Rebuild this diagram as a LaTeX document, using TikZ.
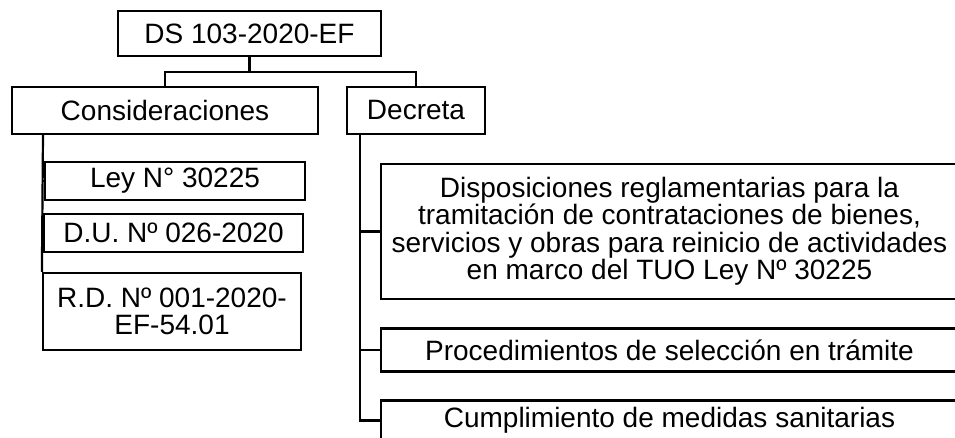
\documentclass[tikz,border=0pt]{standalone}
\usepackage{fontspec}
\setmainfont{Liberation Sans}
\usetikzlibrary{calc}
\begin{document}
\begin{tikzpicture}[x=1pt,y=-1pt,
  box/.style={draw=black,line width=2.2pt,rectangle,inner sep=0pt,align=center,
    font=\fontsize{28}{27.5}\selectfont},
  conn/.style={draw=black,line width=2.2pt}]
\useasboundingbox (0,0) rectangle (955,437);
\clip (0,0) rectangle (955,437);
\node[box,minimum width=263pt,minimum height=45pt] (top) at (249.5,33.5) {DS 103-2020-EF};
\node[box,minimum width=306pt,minimum height=47pt] (cons) at (165,110.5) {Consideraciones};
\node[box,minimum width=138pt,minimum height=47pt] (dec) at (416,110.5) {Decreta};
\node[box,minimum width=260pt,minimum height=38pt] (ley) at (175,181) {Ley N° 30225};
\node[box,minimum width=259pt,minimum height=38pt] (du) at (173.5,233) {D.U. Nº 026-2020};
\node[box,minimum width=258pt,minimum height=77pt] (rd) at (172,311.5) {R.D. Nº 001-2020-\\EF-54.01};
\node[box,minimum width=577pt,minimum height=135pt] (disp) at (669.5,231.5) {Disposiciones reglamentarias para la\\tramitación de contrataciones de bienes,\\servicios y obras para reinicio de actividades\\en marco del TUO Ley Nº 30225};
\node[box,minimum width=577pt,minimum height=43pt] (proc) at (669.5,350) {Procedimientos de selección en trámite};
\node[box,minimum width=577pt,minimum height=40pt] (cump) at (669.5,420.5) {Cumplimiento de medidas sanitarias};
\coordinate (j) at (250,72);
\coordinate (ls) at (43,134);
\coordinate (rs) at (360,134);
\draw[conn] (top.south) -- (top.south |- j) -| (cons.north);
\draw[conn] (top.south |- j) -| (dec.north);
\draw[conn] (ls) -- (rd.north west);
\draw[conn] (ls |- ley.west) -- (ley.west);
\draw[conn] (ls |- du.west) -- (du.west);
\draw[conn] (rs) |- (cump.west);
\draw[conn] (rs |- disp.west) -- (disp.west);
\draw[conn] (rs |- proc.west) -- (proc.west);
\end{tikzpicture}
\end{document}
